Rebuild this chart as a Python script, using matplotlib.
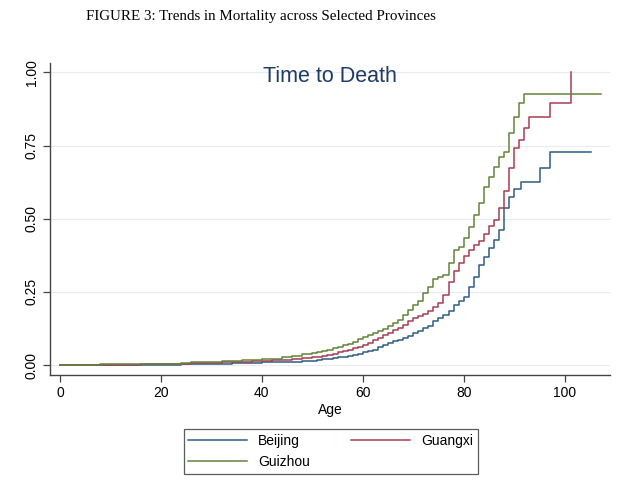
import matplotlib
matplotlib.use("Agg")
import matplotlib.pyplot as plt

# Kaplan-Meier failure estimates (age, cumulative failure)
beijing_age = [0, 8, 16, 20, 24, 28, 30, 32, 34, 36, 38, 40, 42, 44, 46, 48, 50, 51, 52, 53,
               54, 55, 56, 57, 58, 59, 60, 61, 62, 63, 64, 65, 66, 67, 68, 69, 70, 71, 72, 73,
               74, 75, 76, 77, 78, 79, 80, 81, 82, 83, 84, 85, 86, 87, 88, 89, 90, 91.3, 95.1,
               97.2, 105.2]
beijing_val = [0.000, 0.000, 0.001, 0.001, 0.002, 0.003, 0.004, 0.005, 0.006, 0.007, 0.008,
               0.009, 0.010, 0.011, 0.012, 0.013, 0.015, 0.017, 0.019, 0.021, 0.023, 0.026,
               0.028, 0.031, 0.035, 0.039, 0.043, 0.048, 0.053, 0.060, 0.067, 0.074, 0.081,
               0.087, 0.093, 0.100, 0.108, 0.117, 0.126, 0.135, 0.150, 0.160, 0.170, 0.185,
               0.205, 0.218, 0.233, 0.268, 0.302, 0.342, 0.370, 0.399, 0.427, 0.461, 0.535,
               0.575, 0.600, 0.625, 0.673, 0.727, 0.727]

guangxi_age = [0, 4, 8, 12, 16, 20, 22, 24, 26, 28, 30, 32, 34, 36, 38, 40, 42, 44, 46, 48,
               50, 51, 52, 53, 54, 55, 56, 57, 58, 59, 60, 61, 62, 63, 64, 65, 66, 67, 68, 69,
               70, 71, 72, 73, 74, 75, 76, 77, 78, 79, 80, 81, 82, 83, 84, 85, 86, 87, 88, 89,
               90, 91, 92, 93, 97.2, 101.2]
guangxi_val = [0.000, 0.000, 0.001, 0.001, 0.002, 0.003, 0.004, 0.005, 0.006, 0.007, 0.008,
               0.010, 0.011, 0.012, 0.013, 0.014, 0.016, 0.018, 0.021, 0.024, 0.027, 0.029,
               0.032, 0.035, 0.039, 0.043, 0.047, 0.052, 0.057, 0.062, 0.068, 0.076, 0.084,
               0.092, 0.101, 0.110, 0.119, 0.128, 0.138, 0.150, 0.160, 0.168, 0.176, 0.186,
               0.198, 0.212, 0.240, 0.285, 0.320, 0.350, 0.374, 0.393, 0.410, 0.425, 0.448,
               0.475, 0.497, 0.535, 0.595, 0.672, 0.740, 0.769, 0.809, 0.846, 0.897, 1.000]

guizhou_age = [0, 4, 8, 12, 16, 20, 22, 24, 26, 28, 30, 32, 34, 36, 38, 40, 42, 44, 46, 48,
               50, 51, 52, 53, 54, 55, 56, 57, 58, 59, 60, 61, 62, 63, 64, 65, 66, 67, 68, 69,
               70, 71, 72, 73, 74, 75, 76, 77, 78, 79, 80, 81, 82, 83, 84, 85, 86, 87, 88, 89,
               90, 91, 92, 107.3]
guizhou_val = [0.000, 0.001, 0.002, 0.002, 0.003, 0.004, 0.005, 0.007, 0.009, 0.010, 0.011,
               0.013, 0.014, 0.016, 0.018, 0.020, 0.022, 0.026, 0.032, 0.038, 0.041, 0.044,
               0.048, 0.052, 0.057, 0.062, 0.067, 0.073, 0.080, 0.088, 0.097, 0.104, 0.109,
               0.116, 0.124, 0.133, 0.143, 0.155, 0.170, 0.188, 0.205, 0.220, 0.245, 0.266,
               0.293, 0.300, 0.307, 0.347, 0.393, 0.405, 0.433, 0.472, 0.512, 0.552, 0.609,
               0.643, 0.678, 0.712, 0.729, 0.792, 0.848, 0.894, 0.927, 0.927]

x_ticks = [0, 20, 40, 60, 80, 100]
y_ticks = [0.00, 0.25, 0.50, 0.75, 1.00]

plt.rcParams["font.family"] = ["Liberation Sans", "DejaVu Sans"]

fig = plt.figure(figsize=(6.31, 4.90), dpi=100)
ax = fig.add_axes([0.0792, 0.2347, 0.8875, 0.6373])

# horizontal grid
for yv in y_ticks:
    ax.axhline(yv, color="#e6ecef", lw=0.8, zorder=0)

l1, = ax.step(beijing_age, beijing_val, where="post", color="#2f5d86", lw=1.1)
l2, = ax.step(guangxi_age, guangxi_val, where="post", color="#a83c52", lw=1.1)
l3, = ax.step(guizhou_age, guizhou_val, where="post", color="#62843a", lw=1.1)

ax.set_xlim(-2, 109)
ax.set_ylim(-0.034, 1.033)
ax.set_xticks(x_ticks)
ax.set_yticks(y_ticks)
ax.set_yticklabels(["%.2f" % v for v in y_ticks], rotation=90, va="center")
ax.tick_params(axis="both", labelsize=10, length=5, width=0.9, color="#444444",
               direction="out", pad=3)
for s in ["top", "right"]:
    ax.spines[s].set_visible(False)
for s in ["left", "bottom"]:
    ax.spines[s].set_color("#444444")
    ax.spines[s].set_linewidth(1.0)

ax.set_xlabel("Age", fontsize=10, labelpad=2)
ax.text(0.5, 0.956, "Time to Death", transform=ax.transAxes, ha="center", va="center",
        fontsize=15.5, color="#1e3a68")

fig.text(0.413, 0.967, "FIGURE 3: Trends in Mortality across Selected Provinces",
         ha="center", va="center", fontsize=10.8, family="Liberation Serif")

# matplotlib fills legend columns first, so reorder to get Beijing, Guangxi / Guizhou rows
leg = fig.legend([l1, l3, l2], ["Beijing", "Guizhou", "Guangxi"], ncol=2,
                 loc="center", bbox_to_anchor=(0.524, 0.079), fontsize=10,
                 handlelength=4.2, columnspacing=3.0, handletextpad=0.8,
                 labelspacing=0.5, fancybox=False, edgecolor="#333333",
                 borderpad=0.35)
leg.get_frame().set_linewidth(0.9)

fig.savefig("out.png", dpi=100)
